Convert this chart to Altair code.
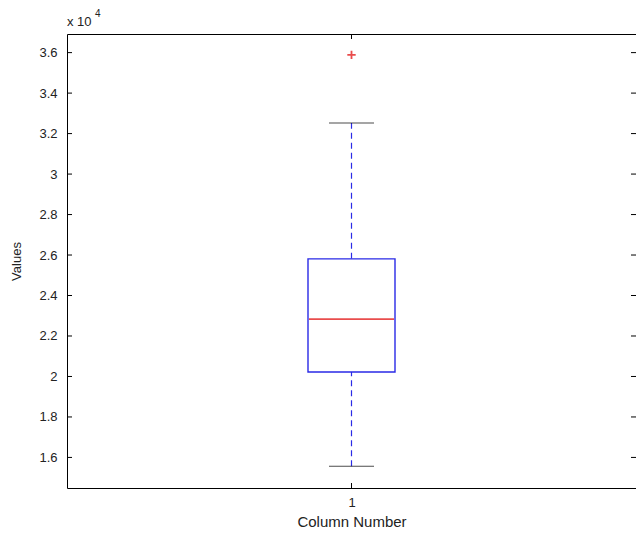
import altair as alt
import pandas as pd

# ---- data ----
columns = [1]
lower_whisker = [15560]
q1_vals = [20220]
median_vals = [22835]
q3_vals = [25810]
upper_whisker = [32520]
outlier_col = [1]
outlier_val = [35890]
y_tick_values = [16000, 18000, 20000, 22000, 24000, 26000, 28000, 30000, 32000, 34000, 36000]
x_tick_values = [1]
y_domain = [14490, 36920]
x_domain = [0.5, 1.5]

W, H = 569, 454
FONT = "Liberation Sans"
BLUE = "#2a2ae6"
RED = "#e00000"

box = pd.DataFrame(dict(col=columns, lo=lower_whisker, q1=q1_vals,
                        med=median_vals, q3=q3_vals, hi=upper_whisker))
out = pd.DataFrame(dict(col=outlier_col, val=outlier_val))
yt = pd.DataFrame(dict(v=y_tick_values))
xt = pd.DataFrame(dict(c=x_tick_values))

xs = alt.Scale(domain=x_domain, nice=False, zero=False)
ys = alt.Scale(domain=y_domain, nice=False, zero=False)

AX = alt.Axis(values=x_tick_values, format="d", title="Column Number",
              ticks=False, tickSize=0, domain=False, grid=False,
              labelPadding=8, titlePadding=5, titleFontSize=15)
AY = alt.Axis(values=y_tick_values,
              labelExpr="format(datum.value/10000, '~g')",
              ticks=False, tickSize=0, domain=False, grid=False,
              title="Values", labelPadding=10, titlePadding=15)

base = alt.Chart(box)

whisker_hi = base.mark_rule(color=BLUE, stroke=BLUE, strokeDash=[6, 4], strokeWidth=1.2).encode(
    x=alt.X("col:Q", scale=xs, axis=AX),
    y=alt.Y("q3:Q", scale=ys, axis=AY),
    y2="hi:Q",
)
whisker_lo = base.mark_rule(color=BLUE, stroke=BLUE, strokeDash=[6, 4], strokeWidth=1.2).encode(
    x=alt.X("col:Q", scale=xs, axis=AX),
    y=alt.Y("lo:Q", scale=ys, axis=AY),
    y2="q1:Q",
)
caps_hi = base.mark_tick(color="black", orient="horizontal", size=45, thickness=1).encode(
    x=alt.X("col:Q", scale=xs, axis=AX),
    y=alt.Y("hi:Q", scale=ys, axis=AY),
)
caps_lo = base.mark_tick(color="black", orient="horizontal", size=45, thickness=1).encode(
    x=alt.X("col:Q", scale=xs, axis=AX),
    y=alt.Y("lo:Q", scale=ys, axis=AY),
)
boxes = base.mark_bar(fill="white", stroke=BLUE, strokeWidth=1.4, size=87).encode(
    x=alt.X("col:Q", scale=xs, axis=AX),
    y=alt.Y("q1:Q", scale=ys, axis=AY),
    y2="q3:Q",
)
med = base.mark_tick(color=RED, orient="horizontal", size=85, thickness=1.6).encode(
    x=alt.X("col:Q", scale=xs, axis=AX),
    y=alt.Y("med:Q", scale=ys, axis=AY),
)
outl = alt.Chart(out).mark_point(shape="M-1,0L1,0M0,-1L0,1", color=RED, filled=False,
                                 size=70, strokeWidth=1.8).encode(
    x=alt.X("col:Q", scale=xs, axis=AX),
    y=alt.Y("val:Q", scale=ys, axis=AY),
)

# inward tick marks on all four sides
lt = alt.Chart(yt).mark_rule(color="black").encode(
    y=alt.Y("v:Q", scale=ys, axis=AY), x=alt.value(0), x2=alt.value(5))
rt = alt.Chart(yt).mark_rule(color="black").encode(
    y=alt.Y("v:Q", scale=ys, axis=AY), x=alt.value(W - 5), x2=alt.value(W))
bt = alt.Chart(xt).mark_rule(color="black").encode(
    x=alt.X("c:Q", scale=xs, axis=AX), y=alt.value(H), y2=alt.value(H - 5))
tt = alt.Chart(xt).mark_rule(color="black").encode(
    x=alt.X("c:Q", scale=xs, axis=AX), y=alt.value(0), y2=alt.value(5))

# exponent annotation
exp_base = alt.Chart(pd.DataFrame({"t": ["x 10"]})).mark_text(
    align="left", baseline="alphabetic", font=FONT, fontSize=13, color="#222").encode(
    x=alt.value(0), y=alt.value(-8), text="t:N")
exp_pow = alt.Chart(pd.DataFrame({"t": ["4"]})).mark_text(
    align="left", baseline="alphabetic", font=FONT, fontSize=10, color="#222").encode(
    x=alt.value(28), y=alt.value(-17), text="t:N")

chart = alt.layer(
    whisker_hi, whisker_lo, caps_hi, caps_lo, boxes, med, outl,
    lt, rt, bt, tt, exp_base, exp_pow
).properties(
    width=W, height=H,
    autosize=alt.AutoSizeParams(type="none"),
    padding={"left": 59, "top": 26, "right": 0, "bottom": 43},
).configure_view(
    stroke="black", strokeWidth=1
).configure_axis(
    labelFont=FONT, titleFont=FONT, labelFontSize=13, titleFontSize=13,
    titleFontWeight="normal", labelColor="#222", titleColor="#222"
)

chart.save("out.html", embed_options={"renderer": "svg", "actions": False})
